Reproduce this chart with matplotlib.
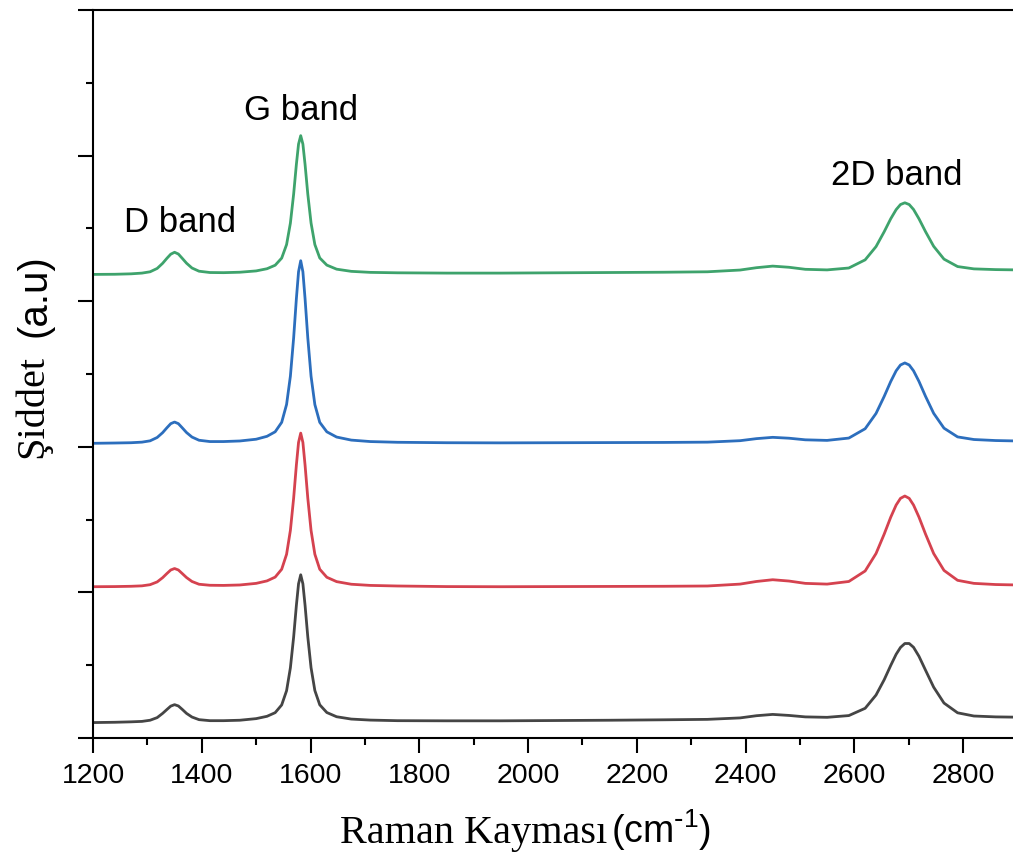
import matplotlib
matplotlib.use("Agg")
import matplotlib.pyplot as plt
from matplotlib.ticker import MultipleLocator

# ---- data ----
wavenumber = [1200, 1240, 1270, 1290, 1305, 1318, 1328, 1336, 1343, 1350,
              1357, 1364, 1372, 1382, 1395, 1415, 1440, 1470, 1500, 1520,
              1535, 1547, 1556, 1563, 1569, 1574, 1578, 1582, 1586, 1590,
              1595, 1601, 1608, 1617, 1630, 1648, 1675, 1710, 1760, 1850,
              1950, 2050, 2150, 2250, 2330, 2390, 2420, 2450, 2480, 2510,
              2550, 2590, 2620, 2640, 2655, 2667, 2677, 2685, 2693, 2701,
              2709, 2719, 2731, 2746, 2765, 2790, 2820, 2860, 2900]

green = [3.184, 3.185, 3.188, 3.193, 3.202, 3.225, 3.260, 3.295, 3.323, 3.336,
         3.324, 3.295, 3.261, 3.228, 3.206, 3.197, 3.196, 3.199, 3.208, 3.223,
         3.247, 3.296, 3.389, 3.536, 3.736, 3.939, 4.079, 4.137, 4.079, 3.939,
         3.736, 3.537, 3.389, 3.297, 3.248, 3.220, 3.205, 3.198, 3.195, 3.193,
         3.193, 3.195, 3.197, 3.199, 3.202, 3.214, 3.230, 3.241, 3.233, 3.219,
         3.215, 3.228, 3.284, 3.375, 3.477, 3.566, 3.629, 3.664, 3.676, 3.664,
         3.630, 3.566, 3.478, 3.377, 3.289, 3.238, 3.222, 3.217, 3.215]

blue = [2.024, 2.026, 2.028, 2.032, 2.041, 2.064, 2.097, 2.131, 2.159, 2.170,
        2.159, 2.131, 2.098, 2.067, 2.045, 2.036, 2.036, 2.040, 2.052, 2.072,
        2.103, 2.168, 2.291, 2.485, 2.749, 3.017, 3.202, 3.278, 3.202, 3.017,
        2.749, 2.485, 2.290, 2.168, 2.103, 2.067, 2.046, 2.036, 2.031, 2.028,
        2.027, 2.028, 2.029, 2.030, 2.032, 2.042, 2.056, 2.065, 2.059, 2.048,
        2.044, 2.060, 2.124, 2.229, 2.346, 2.448, 2.522, 2.562, 2.576, 2.562,
        2.522, 2.449, 2.347, 2.230, 2.128, 2.068, 2.050, 2.043, 2.040]

red = [1.039, 1.040, 1.042, 1.045, 1.053, 1.072, 1.101, 1.130, 1.154, 1.164,
       1.154, 1.130, 1.102, 1.075, 1.056, 1.049, 1.048, 1.051, 1.062, 1.079,
       1.105, 1.159, 1.262, 1.426, 1.648, 1.874, 2.030, 2.094, 2.030, 1.874,
       1.648, 1.426, 1.262, 1.159, 1.104, 1.074, 1.056, 1.048, 1.044, 1.040,
       1.039, 1.040, 1.041, 1.042, 1.044, 1.057, 1.075, 1.087, 1.078, 1.062,
       1.057, 1.075, 1.147, 1.267, 1.400, 1.516, 1.600, 1.646, 1.662, 1.646,
       1.600, 1.517, 1.401, 1.267, 1.151, 1.083, 1.062, 1.054, 1.051]

black = [0.106, 0.108, 0.111, 0.114, 0.122, 0.140, 0.169, 0.196, 0.219, 0.229,
         0.220, 0.197, 0.169, 0.144, 0.126, 0.119, 0.119, 0.122, 0.133, 0.149,
         0.174, 0.227, 0.325, 0.482, 0.694, 0.910, 1.059, 1.121, 1.059, 0.911,
         0.695, 0.483, 0.326, 0.228, 0.175, 0.146, 0.130, 0.123, 0.119, 0.118,
         0.118, 0.120, 0.122, 0.125, 0.128, 0.138, 0.153, 0.162, 0.155, 0.145,
         0.142, 0.154, 0.204, 0.295, 0.400, 0.498, 0.575, 0.622, 0.649, 0.649,
         0.623, 0.561, 0.466, 0.349, 0.240, 0.173, 0.151, 0.145, 0.143]

series = [black, red, blue, green]
colors = ["#454545", "#d5424f", "#2c6ebd", "#3ea36c"]

band_labels = ["D band", "G band", "2D band"]
band_x = [1361, 1583, 2678]
band_y = [3.475, 4.245, 3.798]

x_ticks = [1200, 1400, 1600, 1800, 2000, 2200, 2400, 2600, 2800]

W, H = 1013, 860
fig = plt.figure(figsize=(W / 100, H / 100), dpi=100)
left, right, bottom, top = 93, 1017.4, 738, 10
ax = fig.add_axes([left / W, 1 - bottom / H, (right - left) / W, (bottom - top) / H])

for ys, c in zip(series, colors):
    ax.plot(wavenumber, ys, color=c, lw=2.0, solid_joinstyle="round")

ax.set_xlim(1200, 2900)
ax.set_ylim(0, 5)
ax.set_xticks(x_ticks)
ax.xaxis.set_minor_locator(MultipleLocator(100))
ax.yaxis.set_major_locator(MultipleLocator(1))
ax.yaxis.set_minor_locator(MultipleLocator(0.5))
ax.set_yticklabels([])
ax.spines["right"].set_visible(False)
for s in ["left", "bottom", "top"]:
    ax.spines[s].set_linewidth(1.5)
ax.tick_params(which="major", direction="out", length=10.8, width=1.5)
ax.tick_params(which="minor", direction="out", length=5, width=1.5)
ax.tick_params(axis="x", which="major", labelsize=20.5, pad=7)
for lab in ax.get_xticklabels():
    lab.set_family("Liberation Sans")

for t, xx, yy in zip(band_labels, band_x, band_y):
    ax.text(xx, yy, t, ha="center", va="baseline", fontsize=25,
            family="Liberation Sans", color="black")

# x label: serif part + sans unit
fig.text(607 / W, 1 - 843 / H, "Raman Kayması", ha="right", va="baseline",
         fontsize=29, family="Liberation Serif")
fig.text(611 / W, 1 - 843 / H, r"$\mathregular{(cm^{\text{-}1})}$", ha="left", va="baseline",
         fontsize=27, family="Liberation Sans")

# y label: serif part + sans unit
fig.text(33 / W, 1 - 458 / H, "Şiddet", rotation=90, ha="center", va="bottom",
         fontsize=29, family="Liberation Serif")
fig.text(34 / W, 1 - 337 / H, "(a.u)", rotation=90, ha="center", va="bottom",
         fontsize=29, family="Liberation Sans")

fig.savefig("out.png", dpi=100)
